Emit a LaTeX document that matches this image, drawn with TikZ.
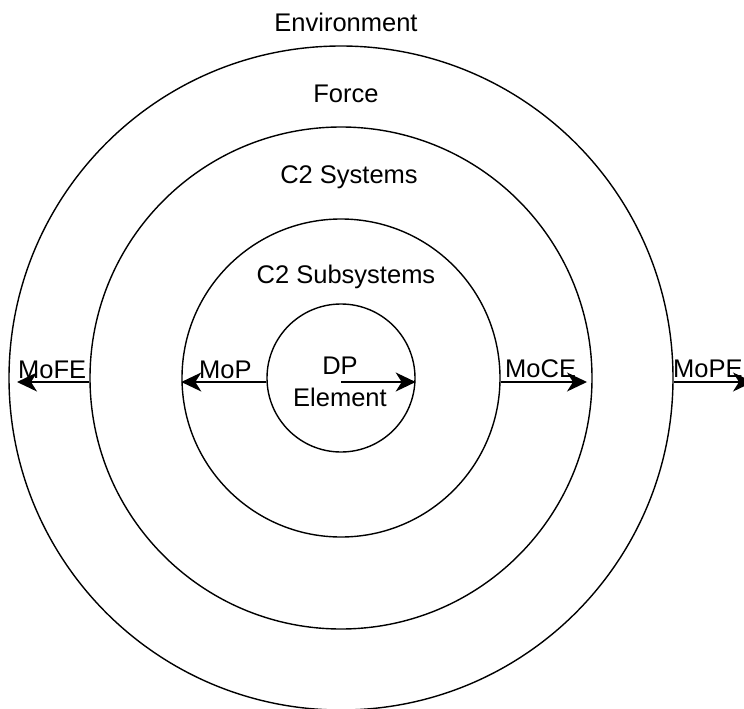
\documentclass[tikz,border=0pt]{standalone}
\usepackage{fontspec}
\setmainfont{Liberation Sans}
\usetikzlibrary{arrows.meta}
\begin{document}
\begin{tikzpicture}[x=1pt, y=-1pt,
    ring/.style={draw, circle, line width=1.4pt, inner sep=0pt},
    flow/.style={line width=1.6pt, -{Stealth[length=20pt, width=19pt, inset=6pt]}},
    lbl/.style={font=\fontsize{25.5}{32}\selectfont, inner sep=0pt}]
    \useasboundingbox (0,0) rectangle (744,709);
    \node[ring, minimum size=664pt] (outer) at (341,378) {};
    \node[ring, minimum size=502pt] (sys) at (341,378) {};
    \node[ring, minimum size=318pt] (sub) at (341,378) {};
    \node[ring, minimum size=148pt] (dp) at (341,378) {};
    \node[lbl, anchor=base] (env) at (346,32) {Environment};
    \node[lbl, anchor=base] (force) at (346,102) {Force};
    \node[lbl, anchor=base] (syslbl) at (349,183) {C2 Systems};
    \node[lbl, anchor=base] (sublbl) at (346,283) {C2 Subsystems};
    \node[lbl, align=center] (dplbl) at (340,381.5) {DP\\Element};
    \node[lbl, anchor=base west] (mofe) at (18,378) {MoFE};
    \node[lbl, anchor=base west] (mop) at (199,378) {MoP};
    \node[lbl, anchor=base west] (moce) at (505,377) {MoCE};
    \node[lbl, anchor=base west] (mope) at (673,377) {MoPE};
    \coordinate (axis) at (0,382);
    \coordinate (fe) at (17,382);
    \coordinate (ce) at (587,382);
    \coordinate (pe) at (753,382);
    \draw[flow] (sys.west |- axis) -- (fe);
    \draw[flow] (dp.west |- axis) -- (sub.west |- axis);
    \draw[flow] (dp.center |- axis) -- (dp.east |- axis);
    \draw[flow] (sub.east |- axis) -- (ce);
    \draw[flow] (outer.east |- axis) -- (pe);
\end{tikzpicture}
\end{document}
